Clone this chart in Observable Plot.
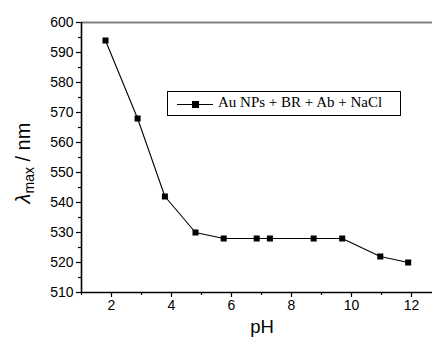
<!DOCTYPE html>
<html><head><meta charset="utf-8">
<script src="https://cdn.jsdelivr.net/npm/d3@7"></script>
<script src="https://cdn.jsdelivr.net/npm/@observablehq/plot@0.6"></script>
<style>
body{margin:0;background:#fff}
#wrap{position:relative;width:432px;height:339px}
#legend{position:absolute;left:167px;top:91px;width:232px;height:23px;border:1px solid #000;background:#fff;box-sizing:content-box;font-family:"Liberation Serif","Times New Roman",serif;font-size:15px;white-space:nowrap}
#legend svg{position:absolute;left:9px;top:6px}
#legend span{position:absolute;left:50px;top:2px}
</style>
</head><body><div id="wrap"></div>
<script>
const pH = [1.8, 2.87, 3.78, 4.8, 5.74, 6.84, 7.28, 8.74, 9.69, 10.96, 11.89];
const lambdaMax = [594, 568, 542, 530, 528, 528, 528, 528, 528, 522, 520];
const seriesName = "Au NPs + BR + Ab + NaCl";
const yTicks = [510, 520, 530, 540, 550, 560, 570, 580, 590, 600];
const yMinor = [515, 525, 535, 545, 555, 565, 575, 585, 595];
const xTicks = [2, 4, 6, 8, 10, 12];
const xMinor = [1, 3, 5, 7, 9, 11];
const data = pH.map((x, i) => ({x, y: lambdaMax[i]}));

const plot = Plot.plot({
  width: 432, height: 339,
  marginLeft: 81, marginTop: 22, marginBottom: 47, marginRight: 0,
  style: {fontFamily: "'Liberation Sans', Arial, sans-serif", fontSize: "14px", background: "#fff", color: "#000", overflow: "visible"},
  x: {domain: [1, 12.7]},
  y: {domain: [510, 600]},
  marks: [
    Plot.ruleY([600], {stroke: "#808080", strokeWidth: 2}),
    Plot.axisY({ticks: yTicks, tickSize: 5, tickPadding: 3, label: null, fontSize: 14, stroke: "#000", fill: "#000", strokeWidth: 1.2}),
    Plot.axisY({ticks: yMinor, tickSize: 3, text: null, label: null, stroke: "#000", strokeWidth: 1.2}),
    Plot.axisX({ticks: xTicks, tickSize: 5, tickPadding: 3, label: null, fontSize: 14, stroke: "#000", fill: "#000", strokeWidth: 1.2}),
    Plot.axisX({ticks: xMinor, tickSize: 3, text: null, label: null, stroke: "#000", strokeWidth: 1.2}),
    Plot.ruleX([1], {stroke: "#000", strokeWidth: 1.6}),
    Plot.ruleY([510], {stroke: "#000", strokeWidth: 1.6}),
    Plot.line(data, {x: "x", y: "y", stroke: "#000", strokeWidth: 1.1}),
    Plot.dot(data, {x: "x", y: "y", symbol: "square", r: 3.4, fill: "#000", stroke: "none"})
  ]
});

const svg = d3.select(plot);
const yl = svg.append("text")
  .attr("transform", "translate(30,163) rotate(-90)")
  .attr("text-anchor", "middle")
  .attr("font-family", "'Liberation Sans', Arial, sans-serif")
  .attr("font-size", 20)
  .attr("fill", "#000");
yl.append("tspan").attr("font-style", "italic").text("λ");
yl.append("tspan").attr("font-size", 14).attr("dy", 4).text("max");
yl.append("tspan").attr("dy", -4).text(" / nm");

svg.append("text")
  .attr("x", 262).attr("y", 333)
  .attr("text-anchor", "middle")
  .attr("font-family", "'Liberation Sans', Arial, sans-serif")
  .attr("font-size", 18.5)
  .attr("fill", "#000")
  .text("pH");

const wrap = document.getElementById("wrap");
wrap.appendChild(plot);
const leg = document.createElement("div");
leg.id = "legend";
leg.innerHTML = '<svg width="36" height="12"><line x1="0" x2="36" y1="6.5" y2="6.5" stroke="#000" stroke-width="1"/><rect x="15" y="3" width="7" height="7" fill="#000"/></svg><span></span>';
leg.querySelector("span").textContent = seriesName;
wrap.appendChild(leg);
</script>
</body></html>
